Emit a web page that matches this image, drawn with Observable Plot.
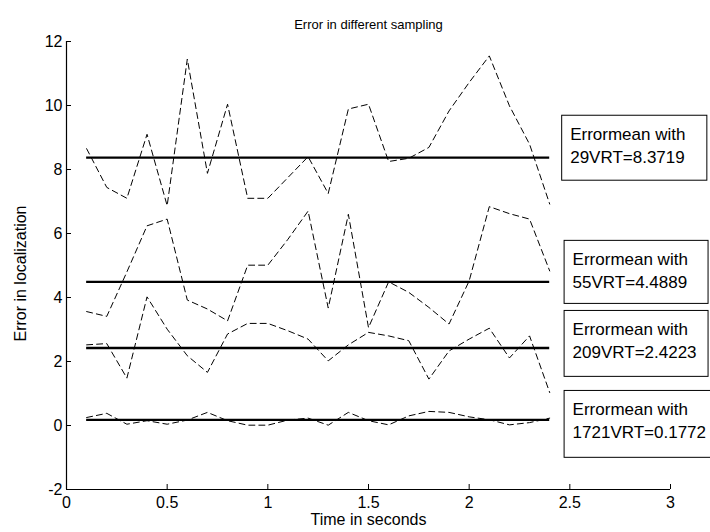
<!DOCTYPE html>
<html>
<head>
<meta charset="utf-8">
<script src="https://cdn.jsdelivr.net/npm/d3@7"></script>
<script src="https://cdn.jsdelivr.net/npm/@observablehq/plot@0.6"></script>
<style>
  html, body { margin: 0; padding: 0; background: #fff; }
  svg { display: block; }
</style>
</head>
<body>
<div id="chart"></div>
<script>
// ---- data ----
const time = [0.1, 0.2, 0.3, 0.4, 0.5, 0.6, 0.7, 0.8, 0.9, 1.0, 1.1, 1.2,
              1.3, 1.4, 1.5, 1.6, 1.7, 1.8, 1.9, 2.0, 2.1, 2.2, 2.3, 2.4];
const err29 = [8.65, 7.44, 7.10, 9.10, 6.87, 11.45, 7.88, 10.04, 7.10, 7.10, 7.75, 8.40,
               7.25, 9.89, 10.04, 8.25, 8.35, 8.69, 9.83, 10.72, 11.55, 9.99, 8.79, 6.92];
const err55 = [3.56, 3.41, 4.80, 6.24, 6.45, 3.92, 3.64, 3.27, 5.01, 5.01, 5.82, 6.70,
               3.67, 6.60, 3.06, 4.49, 4.16, 3.69, 3.17, 4.52, 6.84, 6.62, 6.45, 4.83];
const err209 = [2.52, 2.56, 1.48, 4.02, 3.01, 2.18, 1.66, 2.86, 3.19, 3.19, 2.96, 2.70,
                2.02, 2.52, 2.91, 2.80, 2.65, 1.45, 2.33, 2.70, 3.04, 2.11, 2.80, 1.03];
const err1721 = [0.25, 0.38, 0.04, 0.15, 0.04, 0.17, 0.41, 0.15, 0.01, 0.01, 0.17, 0.23,
                 0.01, 0.41, 0.15, 0.02, 0.30, 0.44, 0.41, 0.27, 0.18, 0.02, 0.09, 0.23];
const vrtCounts = [29, 55, 209, 1721];
const errorMeans = [8.3719, 4.4889, 2.4223, 0.1772];
const xTicks = [0, 0.5, 1, 1.5, 2, 2.5, 3];
const yTicks = [-2, 0, 2, 4, 6, 8, 10, 12];
const titleText = "Error in different sampling";
const xLabel = "Time in seconds";
const yLabel = "Error in localization";

// ---- annotation box placement (data units) ----
const boxLayout = [
  {x1: 2.462, x2: 3.183, y1: 7.65, y2: 9.68},
  {x1: 2.474, x2: 3.189, y1: 3.80, y2: 5.77},
  {x1: 2.474, x2: 3.189, y1: 1.52, y2: 3.58},
  {x1: 2.474, x2: 3.215, y1: -1.01, y2: 1.08}
];

const seriesList = [err29, err55, err209, err1721];
const rows = seriesList.flatMap((s, i) =>
  s.map((v, j) => ({t: time[j], e: v, series: vrtCounts[i]})));
const boxes = boxLayout.map((b, i) => ({
  ...b,
  label: `Errormean with\n${vrtCounts[i]}VRT=${errorMeans[i]}`
}));

const font = "'Liberation Sans', Arial, Helvetica, sans-serif";
const plain = d => String(d);

const chart = Plot.plot({
  width: 710,
  height: 532,
  marginLeft: 66,
  marginRight: 40,
  marginTop: 41,
  marginBottom: 43,
  style: {fontFamily: font, fontSize: "16px", color: "#000", background: "#fff"},
  x: {domain: [0, 3]},
  y: {domain: [-2, 12]},
  marks: [
    // axis lines (left and bottom)
    Plot.ruleX([0], {y1: -2, y2: 12, stroke: "#000", strokeWidth: 1.2}),
    Plot.ruleY([-2], {x1: 0, x2: 3, stroke: "#000", strokeWidth: 1.2}),
    Plot.axisX(xTicks, {tickSize: -5, tickPadding: 12, tickFormat: plain, fontSize: 16, label: null, stroke: "#000"}),
    Plot.axisY(yTicks, {tickSize: -5, tickPadding: 9, tickFormat: plain, fontSize: 16, label: null, stroke: "#000"}),
    // dashed error series
    Plot.line(rows, {x: "t", y: "e", z: "series", stroke: "#000", strokeWidth: 1,
                     strokeDasharray: "6,4"}),
    // mean lines
    Plot.ruleY(errorMeans, {x1: time[0], x2: time[time.length - 1], stroke: "#000", strokeWidth: 2.4}),
    // annotation boxes
    Plot.rect(boxes, {x1: "x1", x2: "x2", y1: "y1", y2: "y2", fill: "#fff", stroke: "#000", strokeWidth: 1}),
    Plot.text(boxes, {x: "x1", y: "y2", text: "label", dx: 8, dy: 8, textAnchor: "start",
                      lineAnchor: "top", lineHeight: 1.35, fontSize: 17, fill: "#000"}),
    // title and axis labels
    Plot.text([titleText], {frameAnchor: "top", text: d => d, dy: -22, fontSize: 13, fill: "#000"}),
    Plot.text([xLabel], {frameAnchor: "bottom", text: d => d, dy: 35, fontSize: 16, fill: "#000"}),
    Plot.text([yLabel], {frameAnchor: "left", text: d => d, textAnchor: "middle", dx: -46, dy: 8,
                         rotate: -90, fontSize: 16, fill: "#000"})
  ]
});
document.getElementById("chart").appendChild(chart);
</script>
</body>
</html>
